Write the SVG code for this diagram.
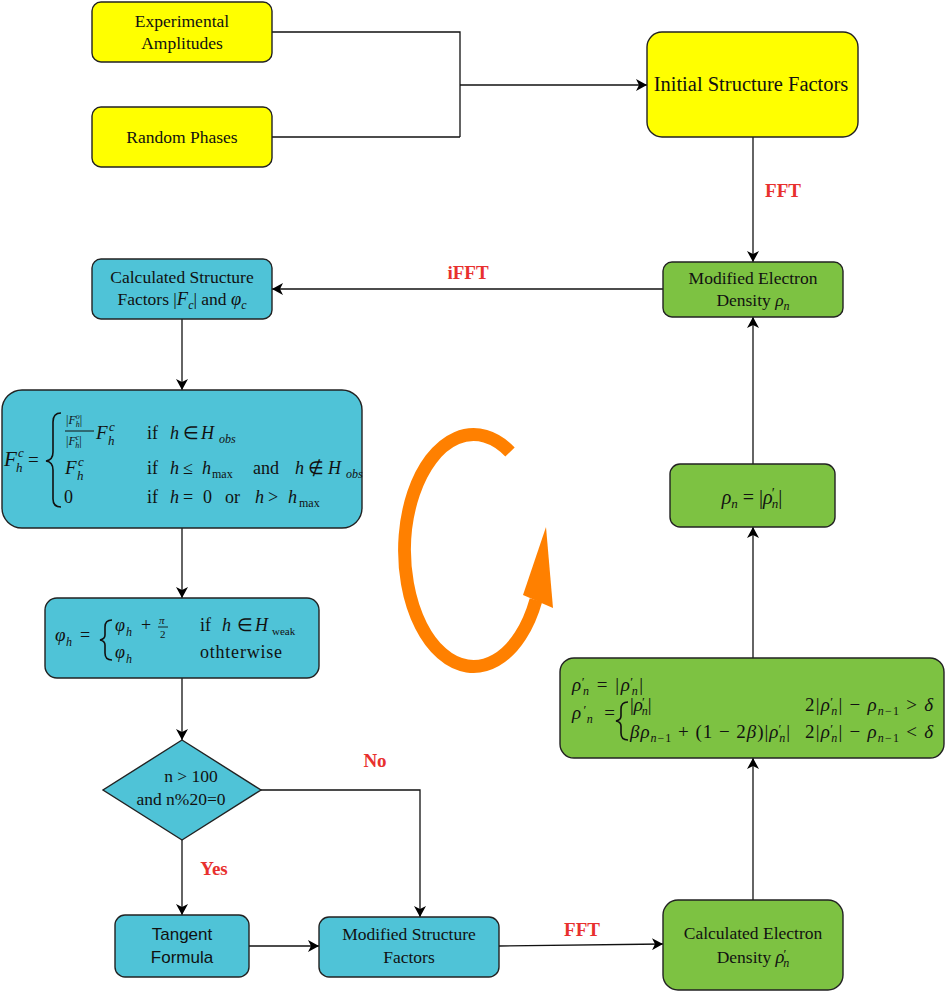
<svg xmlns="http://www.w3.org/2000/svg" width="946" height="992" viewBox="0 0 946 992">
<defs>
<marker id="arr" markerUnits="userSpaceOnUse" markerWidth="12" markerHeight="12" refX="11" refY="6" orient="auto">
<path d="M0,0 L11,6 L0,12 L3,6 z" fill="#000"/>
</marker>
<style>
.yel{fill:#ffff00;stroke:#222;stroke-width:1.4}
.teal{fill:#4fc3d7;stroke:#222;stroke-width:1.4}
.grn{fill:#7dc242;stroke:#222;stroke-width:1.4}
.t{font-family:"Liberation Serif",serif;font-size:17.5px;fill:#111;text-anchor:middle}
.s{font-family:"Liberation Sans",sans-serif;font-size:17px;fill:#111;text-anchor:middle}
.m{font-family:"Liberation Serif",serif;fill:#111}
.i{font-style:italic}
.lbl{font-family:"Liberation Serif",serif;font-size:19px;font-weight:bold;fill:#e8302e;text-anchor:middle}
.c{fill:none;stroke:#111;stroke-width:1.3}
.br{fill:none;stroke:#111;stroke-width:1.6}
</style>
</defs>

<g id="connectors">
<path class="c" d="M272,32 H460 V137"/>
<path class="c" d="M272,137 H460"/>
<path class="c" d="M460,85 H647" marker-end="url(#arr)"/>
<path class="c" d="M753,137 V262" marker-end="url(#arr)"/>
<path class="c" d="M663,289 H272" marker-end="url(#arr)"/>
<path class="c" d="M182,319 V390" marker-end="url(#arr)"/>
<path class="c" d="M182,528 V598" marker-end="url(#arr)"/>
<path class="c" d="M182,678 V740" marker-end="url(#arr)"/>
<path class="c" d="M182,840 V915" marker-end="url(#arr)"/>
<path class="c" d="M261,790 H420 V917" marker-end="url(#arr)"/>
<path class="c" d="M249,946 H319" marker-end="url(#arr)"/>
<path class="c" d="M499,946 L663,944" marker-end="url(#arr)"/>
<path class="c" d="M753,900 V758" marker-end="url(#arr)"/>
<path class="c" d="M753,658 V527" marker-end="url(#arr)"/>
<path class="c" d="M753,464 V317" marker-end="url(#arr)"/>
<text class="lbl" x="783" y="197">FFT</text>
<text class="lbl" x="468" y="279">iFFT</text>
<text class="lbl" x="375" y="767">No</text>
<text class="lbl" x="214" y="875">Yes</text>
<text class="lbl" x="582" y="936">FFT</text>
</g>

<g id="loop">
<path d="M510,452 A69,116 0 1 0 536,600" fill="none" stroke="#ff8000" stroke-width="13"/>
<polygon points="546,527 553,608 523,595" fill="#ff8000"/>
</g>

<g id="exp-amplitudes">
<rect class="yel" x="92" y="2" width="180" height="60" rx="9"/>
<text class="t" x="182" y="27">Experimental</text>
<text class="t" x="182" y="49">Amplitudes</text>
</g>

<g id="random-phases">
<rect class="yel" x="92" y="107" width="180" height="60" rx="9"/>
<text class="t" x="182" y="143">Random Phases</text>
</g>

<g id="initial-sf">
<rect class="yel" x="647" y="32" width="211" height="105" rx="15"/>
<text class="t" x="751" y="91" style="font-size:20.5px">Initial Structure Factors</text>
</g>

<g id="modified-ed">
<rect class="grn" x="663" y="262" width="180" height="55" rx="9"/>
<text class="t" x="753" y="284">Modified Electron</text>
<text class="t" x="753" y="306">Density <tspan class="i">ρ</tspan><tspan class="i" font-size="12" dy="4">n</tspan></text>
</g>

<g id="calc-sf">
<rect class="teal" x="92" y="259" width="180" height="60" rx="9"/>
<text class="t" x="182" y="283">Calculated Structure</text>
<text class="t" x="182" y="305">Factors |<tspan class="i" font-size="18.5">F</tspan><tspan class="i" font-size="12" dy="4">c</tspan><tspan dy="-4">| and </tspan><tspan class="i" font-size="18.5">φ</tspan><tspan class="i" font-size="12" dy="4">c</tspan></text>
</g>

<g id="f-formula" font-size="18">
<rect class="teal" x="2" y="390" width="360" height="138" rx="20"/>
<text class="m i" x="4" y="466" font-size="21">F</text>
<text class="m i" x="18" y="457" font-size="13">c</text>
<text class="m i" x="16" y="472" font-size="13">h</text>
<text class="m" x="28" y="466" font-size="19">=</text>
<path class="br" d="M61,413 Q53,413 53,422 L53,452 Q53,460 46,461 Q53,462 53,470 L53,499 Q53,507 61,507"/>
<!-- row 1 -->
<text class="m" x="66" y="424" font-size="12">|<tspan class="i">F</tspan><tspan class="i" font-size="8" dy="-5">o</tspan><tspan class="i" font-size="8" dx="-4" dy="8">h</tspan><tspan dy="-3">|</tspan></text>
<line x1="65" y1="431" x2="94" y2="431" stroke="#111" stroke-width="1"/>
<text class="m" x="66" y="445" font-size="12">|<tspan class="i">F</tspan><tspan class="i" font-size="8" dy="-5">c</tspan><tspan class="i" font-size="8" dx="-4" dy="8">h</tspan><tspan dy="-3">|</tspan></text>
<text class="m i" x="96" y="439" font-size="19">F</text>
<text class="m i" x="109" y="431" font-size="13">c</text>
<text class="m i" x="108" y="445" font-size="13">h</text>
<text class="m" x="147" y="439">if</text>
<text class="m i" x="170" y="439">h</text>
<text class="m" x="183" y="439">∈</text>
<text class="m i" x="201" y="439">H</text>
<text class="m i" x="219" y="443" font-size="12">obs</text>
<!-- row 2 -->
<text class="m i" x="65" y="474" font-size="19">F</text>
<text class="m i" x="78" y="466" font-size="13">c</text>
<text class="m i" x="77" y="480" font-size="13">h</text>
<text class="m" x="147" y="474">if</text>
<text class="m i" x="170" y="474">h</text>
<text class="m" x="183" y="474">≤</text>
<text class="m i" x="202" y="474">h</text>
<text class="m" x="212" y="478" font-size="12">max</text>
<text class="m" x="253" y="474">and</text>
<text class="m i" x="295" y="474">h</text>
<text class="m" x="308" y="474">∉</text>
<text class="m i" x="328" y="474">H</text>
<text class="m i" x="346" y="478" font-size="12">obs</text>
<!-- row 3 -->
<text class="m" x="64" y="503">0</text>
<text class="m" x="147" y="503">if</text>
<text class="m i" x="170" y="503">h</text>
<text class="m" x="183" y="503">=</text>
<text class="m" x="203" y="503">0</text>
<text class="m" x="225" y="503">or</text>
<text class="m i" x="255" y="503">h</text>
<text class="m" x="268" y="503">&gt;</text>
<text class="m i" x="288" y="503">h</text>
<text class="m" x="299" y="507" font-size="12">max</text>
</g>

<g id="phi-formula" font-size="18">
<rect class="teal" x="45" y="598" width="274" height="80" rx="12"/>
<text class="m i" x="55" y="641" font-size="19">φ</text>
<text class="m i" x="66" y="646" font-size="12">h</text>
<text class="m" x="80" y="641">=</text>
<path class="br" d="M112,620 Q105,620 105,627 L105,635 Q105,639 100,640 Q105,641 105,645 L105,653 Q105,660 112,660"/>
<text class="m i" x="115" y="631">φ</text>
<text class="m i" x="126" y="636" font-size="12">h</text>
<text class="m" x="141" y="631">+</text>
<text class="m i" x="159" y="624" font-size="11">π</text>
<line x1="158" y1="627" x2="168" y2="627" stroke="#111" stroke-width="0.9"/>
<text class="m" x="160" y="638" font-size="11">2</text>
<text class="m" x="200" y="631">if</text>
<text class="m i" x="222" y="631">h</text>
<text class="m" x="237" y="631">∈</text>
<text class="m i" x="255" y="631">H</text>
<text class="m" x="272" y="635" font-size="11">weak</text>
<text class="m i" x="115" y="658">φ</text>
<text class="m i" x="126" y="663" font-size="12">h</text>
<text class="m" x="200" y="658" textLength="82">othterwise</text>
</g>

<g id="decision">
<polygon class="teal" points="182,740 261,790 182,840 103,790"/>
<text class="t" x="191" y="782">n &gt; 100</text>
<text class="t" x="181" y="805">and n%20=0</text>
</g>

<g id="tangent">
<rect class="teal" x="115" y="915" width="134" height="62" rx="10"/>
<text class="s" x="182" y="940">Tangent</text>
<text class="s" x="182" y="963">Formula</text>
</g>

<g id="modified-sf">
<rect class="teal" x="319" y="917" width="180" height="60" rx="10"/>
<text class="t" x="409" y="940">Modified Structure</text>
<text class="t" x="409" y="963">Factors</text>
</g>

<g id="calc-ed">
<rect class="grn" x="663" y="900" width="180" height="90" rx="15"/>
<text class="t" x="753" y="939">Calculated Electron</text>
<text class="t" x="753" y="963">Density <tspan class="i" font-size="18.5">ρ</tspan><tspan font-size="13" dx="-1" dy="-5">′</tspan><tspan class="i" font-size="12" dx="-3" dy="9">n</tspan></text>
</g>

<g id="rho-update" font-size="19">
<rect class="grn" x="560" y="658" width="384" height="100" rx="14"/>
<text class="m" x="572" y="691" textLength="71"><tspan class="i">ρ</tspan><tspan font-size="13" dx="-1" dy="-5">′</tspan><tspan class="i" font-size="12" dx="-3" dy="9">n</tspan><tspan dy="-4"> = |</tspan><tspan class="i">ρ</tspan><tspan font-size="13" dx="-1" dy="-5">′</tspan><tspan class="i" font-size="12" dx="-3" dy="9">n</tspan><tspan dy="-4">|</tspan></text>
<text class="m" x="572" y="719" textLength="43"><tspan class="i">ρ</tspan><tspan font-size="13" dx="-1" dy="-5">′</tspan><tspan class="i" font-size="12" dx="-3" dy="9">n</tspan><tspan dy="-4"> =</tspan></text>
<path class="br" d="M628,702 Q621,702 621,709 L621,716 Q621,720 616,721 Q621,722 621,726 L621,733 Q621,740 628,740"/>
<text class="m" x="630" y="711">|<tspan class="i">ρ</tspan><tspan font-size="13" dx="-1" dy="-5">′</tspan><tspan class="i" font-size="12" dx="-3" dy="9">n</tspan><tspan dy="-4">|</tspan></text>
<text class="m" x="805" y="711" textLength="128">2|<tspan class="i">ρ</tspan><tspan font-size="13" dx="-1" dy="-5">′</tspan><tspan class="i" font-size="12" dx="-3" dy="9">n</tspan><tspan dy="-4">| − </tspan><tspan class="i">ρ</tspan><tspan font-size="12" dy="4"><tspan class="i">n</tspan>−1</tspan><tspan dy="-4"> &gt; </tspan><tspan class="i">δ</tspan></text>
<text class="m" x="630" y="738" textLength="160"><tspan class="i">βρ</tspan><tspan font-size="12" dy="4"><tspan class="i">n</tspan>−1</tspan><tspan dy="-4"> + (1 − 2</tspan><tspan class="i">β</tspan>)|<tspan class="i">ρ</tspan><tspan font-size="13" dx="-1" dy="-5">′</tspan><tspan class="i" font-size="12" dx="-3" dy="9">n</tspan><tspan dy="-4">|</tspan></text>
<text class="m" x="805" y="738" textLength="128">2|<tspan class="i">ρ</tspan><tspan font-size="13" dx="-1" dy="-5">′</tspan><tspan class="i" font-size="12" dx="-3" dy="9">n</tspan><tspan dy="-4">| − </tspan><tspan class="i">ρ</tspan><tspan font-size="12" dy="4"><tspan class="i">n</tspan>−1</tspan><tspan dy="-4"> &lt; </tspan><tspan class="i">δ</tspan></text>
</g>

<g id="rho-n">
<rect class="grn" x="670" y="464" width="165" height="63" rx="10"/>
<text class="m" x="752" y="504" text-anchor="middle" font-size="20"><tspan class="i">ρ</tspan><tspan class="i" font-size="13" dy="4">n</tspan><tspan dy="-4"> = |</tspan><tspan class="i">ρ</tspan><tspan font-size="14" dx="-1" dy="-6">′</tspan><tspan class="i" font-size="13" dx="-3" dy="10">n</tspan><tspan dy="-4">|</tspan></text>
</g>
</svg>
